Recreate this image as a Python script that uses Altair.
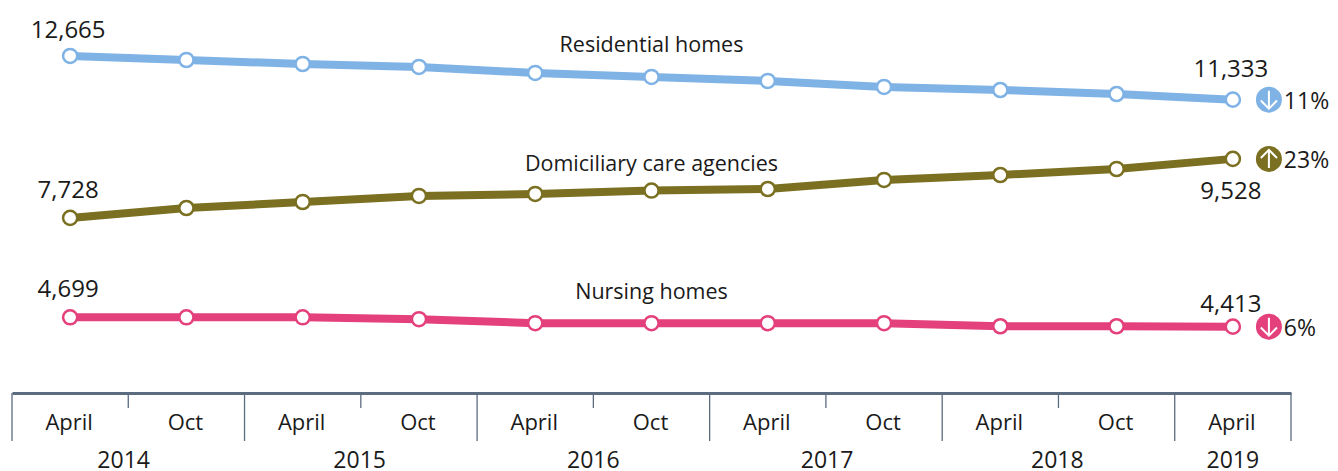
import altair as alt
import pandas as pd

FONT = "Open Sans"
TEXT = "#1a1a1a"
AXIS = "#5b6b80"

idx = list(range(11))
residential = [12665, 12543, 12421, 12330, 12147, 12025, 11903, 11720, 11628, 11506, 11333]
domiciliary = [7728, 8031, 8214, 8397, 8458, 8564, 8610, 8885, 9037, 9220, 9528]
nursing = [4699, 4699, 4699, 4640, 4518, 4518, 4518, 4518, 4426, 4426, 4413]
names = ["Residential homes", "Domiciliary care agencies", "Nursing homes"]
colors = ["#7fb2e5", "#7b7021", "#e4407b"]
changes = ["11%", "23%", "6%"]
arrows = ["down", "up", "down"]
years = ["2014", "2015", "2016", "2017", "2018", "2019"]
year_pos = [0.46, 2.49, 4.5, 6.51, 8.49, 10.0]
major_edges = [-0.5, 1.5, 3.5, 5.5, 7.5, 9.5, 10.5]
minor_edges = [0.5, 2.5, 4.5, 6.5, 8.5]

x_scale = alt.Scale(domain=[-0.5, 10.5], nice=False, zero=False)
y_scale = alt.Scale(domain=[2391, 14006], nice=False, zero=False)
X = alt.X("i:Q", scale=x_scale,
          axis=alt.Axis(values=idx, labelExpr="datum.value % 2 == 0 ? 'April' : 'Oct'",
                        title=None, grid=False, ticks=False, domainColor=AXIS, domainWidth=3,
                        labelFont=FONT, labelFontSize=22, labelColor=TEXT, labelPadding=19,
                        labelOffset=-1.5, labelFlush=False, labelOverlap=False))
Y = alt.Y("v:Q", scale=y_scale, axis=None)

series = [residential, domiciliary, nursing]
long = pd.DataFrame([
    {"i": i, "v": v, "s": n}
    for n, vals in zip(names, series) for i, v in zip(idx, vals)
])
cscale = alt.Scale(domain=names, range=colors)

lines = alt.Chart(long).mark_line(strokeWidth=8).encode(
    x=X, y=Y, color=alt.Color("s:N", scale=cscale, legend=None))
points = alt.Chart(long).mark_point(filled=True, fill="white", size=200, strokeWidth=2.5, opacity=1).encode(
    x=X, y=Y, stroke=alt.Stroke("s:N", scale=cscale, legend=None))

layers = [lines, points]


def text(i, v, label, dy=0, dx=0, align="center", size=24):
    return alt.Chart(pd.DataFrame({"i": [i], "v": [v], "t": [label]})).mark_text(
        font=FONT, fontSize=size, color=TEXT, align=align, baseline="middle", dy=dy, dx=dx
    ).encode(x=X, y=Y, text="t:N")


name_dy = [-31, -26, -30]
first_dy = [-25, -27, -27]
last_dy = [-30, 33, -22]
pct_dy = 2
for k, vals in enumerate(series):
    layers.append(text(5, vals[5], names[k], dy=name_dy[k], size=21.5))
    layers.append(text(0, vals[0], f"{vals[0]:,}", dy=first_dy[k], dx=-2))
    layers.append(text(10, vals[10], f"{vals[10]:,}", dy=last_dy[k], dx=-2))
    layers.append(text(10, vals[10], changes[k], dx=51, dy=pct_dy, align="left", size=23))
    one = pd.DataFrame({"i": [10.31], "v": [vals[10]]})
    layers.append(alt.Chart(one).mark_circle(size=676, color=colors[k], opacity=1).encode(x=X, y=Y))
    path = ("M0,-1L0,1M-0.9,0.1L0,1L0.9,0.1" if arrows[k] == "down"
            else "M0,1L0,-1M-0.9,-0.1L0,-1L0.9,-0.1")
    layers.append(alt.Chart(one).mark_point(shape=path, size=324, filled=False, fill="transparent",
                                            stroke="white", strokeWidth=2, opacity=1).encode(x=X, y=Y))

layers.append(alt.Chart(pd.DataFrame({"i": major_edges})).mark_rule(color=AXIS, strokeWidth=1.3).encode(
    x=X, y=alt.value(381), y2=alt.value(429)))
layers.append(alt.Chart(pd.DataFrame({"i": minor_edges})).mark_rule(color=AXIS, strokeWidth=1.3).encode(
    x=X, y=alt.value(381), y2=alt.value(396)))
layers.append(alt.Chart(pd.DataFrame({"i": year_pos, "t": years})).mark_text(
    font=FONT, fontSize=23, color=TEXT, align="center", baseline="middle").encode(
    x=X, y=alt.value(449), text="t:N"))

chart = alt.layer(*layers).properties(
    width=1279, height=381,
    autosize=alt.AutoSizeParams(type="none"),
    padding={"left": 4, "top": 4, "right": 39, "bottom": 78},
).configure_view(stroke=None)

chart.save("out.html", embed_options={"renderer": "svg", "actions": False})
